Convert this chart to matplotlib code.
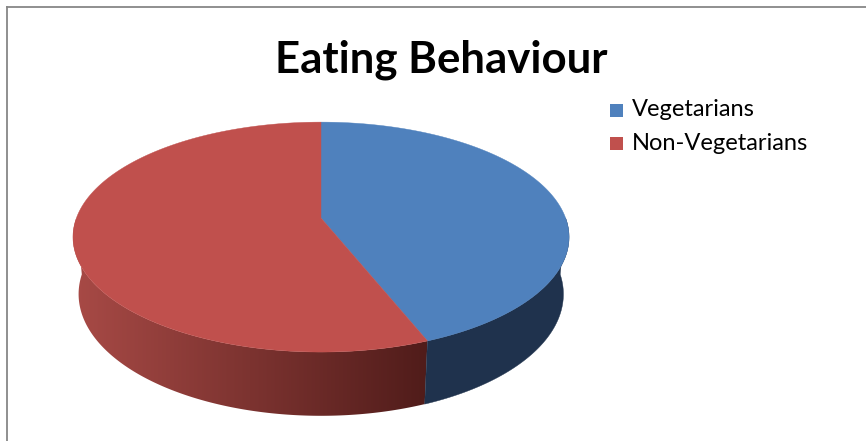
import numpy as np
import matplotlib
matplotlib.use("Agg")
import matplotlib.pyplot as plt
from matplotlib.patches import Polygon, Rectangle
from matplotlib.lines import Line2D

# data
labels = ["Vegetarians", "Non-Vegetarians"]
values = [44, 56]
top_colors = ["#4F81BD", "#C0504D"]
title = "Eating Behaviour"

# 3-D pie view (screen px)
CX, CY = 321, 218
F, L, ELEV, T = 1311.0, 5.36, np.radians(27.2), 0.265
se, ce = np.sin(ELEV), np.cos(ELEV)


def proj(th, y):
    # th: clockwise angle from the far point; y: 0 top face, -T bottom face
    x = np.sin(th)
    z = -np.cos(th)
    depth = L - (y * se + z * ce)
    sx = F * x / depth
    sy = F * (y * ce - z * se) / depth
    return CX + sx, CY - sy


fig = plt.figure(figsize=(8.66, 4.41), dpi=100)
ax = fig.add_axes([0, 0, 1, 1])
ax.set_xlim(0, 866); ax.set_ylim(441, 0); ax.axis("off")

frac = np.array(values, float) / sum(values)
edges = np.concatenate([[0], np.cumsum(frac)]) * 2 * np.pi
split = edges[1]

# outer side, near half only
side = {0: (np.pi / 2, split), 1: (split, 1.5 * np.pi)}
for i, (a, b) in side.items():
    tt = np.linspace(a, b, 300)
    pts = np.vstack([np.column_stack(proj(tt, 0)), np.column_stack(proj(tt[::-1], -T))])
    if i == 0:
        ax.add_patch(Polygon(pts, closed=True, fc="#1F324D", ec="#1F324D", lw=0.3))
    else:
        poly = Polygon(pts, closed=True, fc="none", ec="none")
        ax.add_patch(poly)
        x0, x1 = pts[:, 0].min(), pts[:, 0].max()
        y0, y1 = pts[:, 1].min(), pts[:, 1].max()
        c0 = np.array(matplotlib.colors.to_rgb("#A84A46"))
        c1 = np.array(matplotlib.colors.to_rgb("#501C1A"))
        t = np.linspace(0, 1, 256)[None, :, None]
        img = c0 + (c1 - c0) * t
        im = ax.imshow(img, extent=(x0, x1, y1, y0), aspect="auto", interpolation="bilinear")
        im.set_clip_path(poly)

# top faces
for i in range(len(values)):
    tt = np.linspace(edges[i], edges[i + 1], 300)
    pts = np.column_stack(proj(tt, 0))
    pts = np.vstack([[CX, CY], pts])
    ax.add_patch(Polygon(pts, closed=True, fc=top_colors[i], ec=top_colors[i], lw=0.3))

ax.set_xlim(0, 866); ax.set_ylim(441, 0)

# frame lines
ax.add_line(Line2D([6.5, 866], [7, 7], color="#878787", lw=1.3))
ax.add_line(Line2D([6.5, 6.5], [7, 441], color="#878787", lw=1.3))

ax.text(441, 60, title, ha="center", va="center", fontsize=31.5, fontweight="bold",
        family="Lato")

for i, lab in enumerate(labels):
    y = 110 + 33 * i
    ax.add_patch(Rectangle((610, y - 6.5), 13, 13, fc=top_colors[i], ec="none"))
    ax.text(632, y, lab, ha="left", va="center", fontsize=17, family="Lato")

fig.savefig("out.png", dpi=100)
